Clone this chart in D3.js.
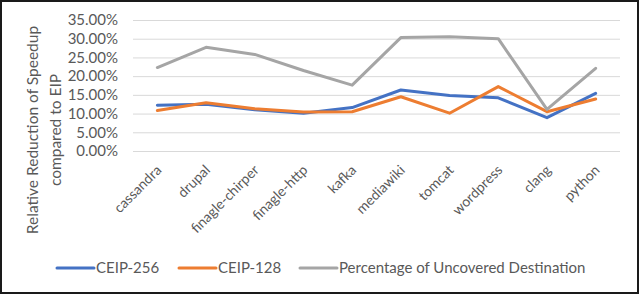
<!DOCTYPE html>
<html>
<head>
<meta charset="utf-8">
<script src="https://cdn.jsdelivr.net/npm/d3@7"></script>
<style>
  body { margin: 0; background: #fff; }
  svg { display: block; font-family: Lato, "Open Sans", sans-serif; }
</style>
</head>
<body>
<div id="chart"></div>
<script>
// categories and series
const categories = ["cassandra", "drupal", "finagle-chirper", "finagle-http", "kafka",
                    "mediawiki", "tomcat", "wordpress", "clang", "python"];
const ceip256 = [0.122, 0.125, 0.110, 0.101, 0.116, 0.163, 0.148, 0.142, 0.089, 0.154];
const ceip128 = [0.108, 0.129, 0.113, 0.104, 0.105, 0.145, 0.101, 0.172, 0.105, 0.139];
const uncovered = [0.223, 0.277, 0.258, 0.215, 0.176, 0.303, 0.305, 0.300, 0.111, 0.221];
const yTicks = [0, 0.05, 0.10, 0.15, 0.20, 0.25, 0.30, 0.35];

const series = [
    { name: "CEIP-256", values: ceip256, color: "#4472C4" },
    { name: "CEIP-128", values: ceip128, color: "#ED7D31" },
    { name: "Percentage of Uncovered Destination", values: uncovered, color: "#A5A5A5" }
];

const width = 640;
const height = 296;
const plot = { left: 133, right: 620, top: 20, bottom: 151 };

const svg = d3.select("#chart")
    .append("svg")
    .attr("width", width)
    .attr("height", height);

// frame round the picture
svg.append("rect")
    .attr("x", 1).attr("y", 1)
    .attr("width", width - 3).attr("height", height - 4)
    .attr("fill", "#fff")
    .attr("stroke", "#1a1a1a")
    .attr("stroke-width", 2);

const x = d3.scaleBand()
    .domain(categories)
    .range([plot.left, plot.right]);

const y = d3.scaleLinear()
    .domain([0, 0.35])
    .range([plot.bottom, plot.top]);

// y axis with gridlines
const yAxis = svg.append("g")
    .attr("transform", `translate(${plot.left},0)`)
    .call(d3.axisLeft(y)
        .tickValues(yTicks)
        .tickFormat(d3.format(".2%"))
        .tickSizeInner(-(plot.right - plot.left))
        .tickSizeOuter(0)
        .tickPadding(15));
yAxis.select(".domain").remove();
yAxis.selectAll(".tick line").attr("stroke", "#D9D9D9").attr("stroke-width", 1);
yAxis.selectAll(".tick text")
    .attr("fill", "#595959")
    .attr("font-size", "15px")
    .attr("font-family", "Lato, sans-serif");

// x axis labels, rotated
const xAxis = svg.append("g")
    .attr("transform", `translate(0,${plot.bottom})`)
    .call(d3.axisBottom(x).tickSize(0).tickPadding(0));
xAxis.select(".domain").remove();
xAxis.selectAll(".tick text")
    .attr("fill", "#595959")
    .attr("font-size", "14px")
    .attr("font-family", "Lato, sans-serif")
    .attr("text-anchor", "end")
    .attr("dy", null)
    .attr("y", 0)
    .attr("transform", "translate(5,20) rotate(-45)");

// lines
const line = d3.line()
    .x((d, i) => x(categories[i]) + x.bandwidth() / 2)
    .y(d => y(d));

svg.selectAll(".series")
    .data(series)
    .enter().append("path")
    .attr("class", "series")
    .attr("d", d => line(d.values))
    .attr("fill", "none")
    .attr("stroke", d => d.color)
    .attr("stroke-width", 3)
    .attr("stroke-linejoin", "round")
    .attr("stroke-linecap", "round");

// y axis title
const title = svg.append("text")
    .attr("transform", "translate(0,130) rotate(-90)")
    .attr("text-anchor", "middle")
    .attr("fill", "#595959")
    .attr("font-size", "15.5px")
    .attr("font-family", "Lato, sans-serif");
title.append("tspan").attr("x", 0).attr("y", 38).text("Relative Reduction of Speedup");
title.append("tspan").attr("x", 0).attr("y", 61).text("compared to EIP");

// legend
const legendX = [57, 179, 300];
const legend = svg.selectAll(".legend")
    .data(series)
    .enter().append("g")
    .attr("class", "legend")
    .attr("transform", (d, i) => `translate(${legendX[i]},268)`);

legend.append("line")
    .attr("x1", 0).attr("x2", 37)
    .attr("stroke", d => d.color)
    .attr("stroke-width", 3)
    .attr("stroke-linecap", "round");

legend.append("text")
    .attr("x", 39)
    .attr("y", 5)
    .attr("fill", "#595959")
    .attr("font-size", "15px")
    .attr("font-family", "Lato, sans-serif")
    .text(d => d.name);
</script>
</body>
</html>
